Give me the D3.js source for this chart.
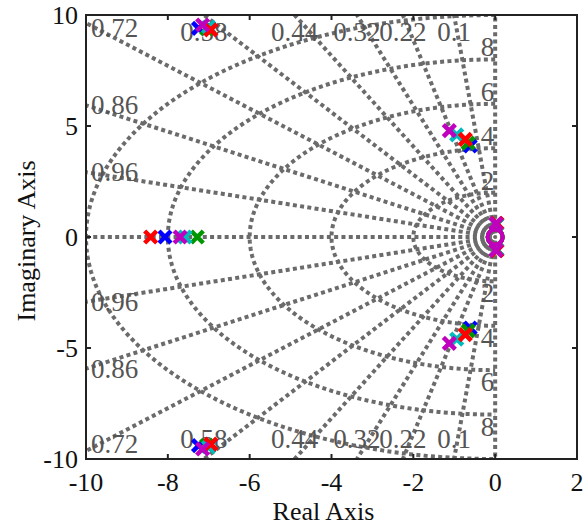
<!DOCTYPE html>
<html><head><meta charset="utf-8">
<script src="https://cdn.jsdelivr.net/npm/d3@7"></script>
<style>body{margin:0;background:#fff}svg{display:block}</style>
</head><body><svg id="c" width="585" height="524"></svg>
<script>
// ---- data ----
const xTicks = [-10, -8, -6, -4, -2, 0, 2];
const yTicks = [-10, -5, 0, 5, 10];
const zetaValues = [0, 0.1, 0.22, 0.32, 0.44, 0.58, 0.72, 0.86, 0.96, 1];
const zetaLabels = ["0.1", "0.22", "0.32", "0.44", "0.58", "0.72", "0.86", "0.96"];
const wnValues = [2, 4, 6, 8, 10];
const wnLabels = ["2", "4", "6", "8"];
const systems = ["sys1", "sys2", "sys3", "sys4", "sys5"];
const sysColors = ["#0000ff", "#009600", "#00bcbc", "#ff0000", "#bf00bf"];
const realPole = [-8.07, -7.28, -7.58, -8.42, -7.70];
const highRe = [-7.25, -7.05, -7.0, -6.95, -7.15];
const highIm = [9.40, 9.38, 9.46, 9.33, 9.55];
const midRe = [-0.61, -0.66, -0.94, -0.73, -1.12];
const midIm = [4.10, 4.23, 4.60, 4.40, 4.79];
const lowRe = [0.04, 0.04, 0.04, 0.04, 0.02];
const lowIm = [0.58, 0.60, 0.58, 0.62, 0.60];
const zeroRe = [0, 0, 0, 0, 0];
const zeroIm = [0, 0, 0, 0, 0];

// ---- layout ----
const L = 86, R = 577, T = 15, B = 459;
const x = d3.scaleLinear().domain([-10, 2]).range([L, R]);
const y = d3.scaleLinear().domain([-10, 10]).range([B, T]);
const svg = d3.select("#c");
const font = "'Liberation Serif', 'Times New Roman', serif";
const gridCol = "#6b6b6b";
const fs = 26;

svg.append("defs").append("clipPath").attr("id", "clip")
  .append("rect").attr("x", L).attr("y", T).attr("width", R - L).attr("height", B - T);
const g = svg.append("g").attr("clip-path", "url(#clip)");

const dash = {"stroke": gridCol, "stroke-width": 4, "stroke-dasharray": "4,3.3", "stroke-dashoffset": 3.6, "fill": "none"};
function applyDash(sel){ Object.entries(dash).forEach(([k,v]) => sel.attr(k, v)); return sel; }
zetaValues.forEach(z => {
  const s = Math.sqrt(1 - z * z);
  [1, -1].forEach(sg => {
    if (z === 1 && sg === -1) return;
    const Rr = 30;
    applyDash(g.append("line")
      .attr("x1", x(0)).attr("y1", y(0))
      .attr("x2", x(-z * Rr)).attr("y2", y(sg * s * Rr)));
  });
});
wnValues.forEach(w => {
  const pts = d3.range(0, 181, 1).map(a => {
    const t = (90 + a) * Math.PI / 180;
    return [x(w * Math.cos(t)), y(w * Math.sin(t))];
  });
  applyDash(g.append("path").attr("d", d3.line()(pts))).attr("stroke-dashoffset", 0);
});

// damping labels
const zl = svg.append("g").attr("font-family", font).attr("font-size", fs + 1).attr("fill", "#555");
zetaLabels.forEach(lbl => {
  const z = +lbl, s = Math.sqrt(1 - z * z);
  const xt = -10 * z / s;
  [1, -1].forEach(sg => {
    if (xt >= -10) {
      zl.append("text").attr("x", x(xt)).attr("y", sg > 0 ? y(10) + 17 : y(-10) - 20)
        .attr("text-anchor", "middle").attr("dominant-baseline", "central").text(lbl);
    } else {
      const yl = 10 * s / z;
      let py = y(sg * yl);
      if (sg > 0) py = Math.max(py, y(10) + 13); else py = Math.min(py, y(-10) - 15);
      zl.append("text").attr("x", L + 5).attr("y", py)
        .attr("text-anchor", "start").attr("dominant-baseline", "central").text(lbl);
    }
  });
});
wnLabels.forEach(lbl => {
  const w = +lbl;
  zl.append("text").attr("x", x(0) - 1).attr("y", y(w) - 12)
    .attr("text-anchor", "end").attr("dominant-baseline", "central").text(lbl);
  zl.append("text").attr("x", x(0) - 1).attr("y", y(-w) + 12)
    .attr("text-anchor", "end").attr("dominant-baseline", "central").text(lbl);
});

// markers
const mk = svg.append("g");
function xMark(px, py, col){
  const h = 6;
  mk.append("path").attr("d", `M${px-h},${py-h}L${px+h},${py+h}M${px-h},${py+h}L${px+h},${py-h}`)
    .attr("stroke", col).attr("stroke-width", 4.5).attr("fill", "none");
}
systems.forEach((s, i) => {
  const c = sysColors[i];
  xMark(x(realPole[i]), y(0), c);
  xMark(x(highRe[i]), y(highIm[i]), c);
  xMark(x(highRe[i]), y(-highIm[i]), c);
  xMark(x(midRe[i]), y(midIm[i]), c);
  xMark(x(midRe[i]), y(-midIm[i]), c);
  xMark(x(lowRe[i]), y(lowIm[i]), c);
  xMark(x(lowRe[i]), y(-lowIm[i]), c);
  mk.append("circle").attr("cx", x(zeroRe[i])).attr("cy", y(zeroIm[i])).attr("r", 7.5)
    .attr("fill", "none").attr("stroke", c).attr("stroke-width", 4);
});

// frame & ticks
svg.append("rect").attr("x", L).attr("y", T).attr("width", R - L).attr("height", B - T)
  .attr("fill", "none").attr("stroke", "#222").attr("stroke-width", 2);
const ax = svg.append("g").attr("font-family", font).attr("font-size", fs).attr("fill", "#111");
const tl = 5;
xTicks.forEach(t => {
  ax.append("line").attr("x1", x(t)).attr("x2", x(t)).attr("y1", B).attr("y2", B - tl).attr("stroke", "#222").attr("stroke-width", 2);
  ax.append("line").attr("x1", x(t)).attr("x2", x(t)).attr("y1", T).attr("y2", T + tl).attr("stroke", "#222").attr("stroke-width", 2);
  ax.append("text").attr("x", x(t)).attr("y", B + 23).attr("text-anchor", "middle")
    .attr("dominant-baseline", "central").text(String(t));
});
yTicks.forEach(t => {
  ax.append("line").attr("x1", L).attr("x2", L + tl).attr("y1", y(t)).attr("y2", y(t)).attr("stroke", "#222").attr("stroke-width", 2);
  ax.append("line").attr("x1", R).attr("x2", R - tl).attr("y1", y(t)).attr("y2", y(t)).attr("stroke", "#222").attr("stroke-width", 2);
  ax.append("text").attr("x", L - 8).attr("y", y(t)).attr("text-anchor", "end")
    .attr("dominant-baseline", "central").text(String(t));
});
ax.append("text").attr("x", (L + R) / 2 - 8).attr("y", 511).attr("text-anchor", "middle")
  .attr("dominant-baseline", "central").text("Real Axis");
ax.append("text").attr("transform", `translate(26,${(T + B) / 2 + 4}) rotate(-90)`)
  .attr("text-anchor", "middle").attr("dominant-baseline", "central").text("Imaginary Axis");
</script></body></html>
